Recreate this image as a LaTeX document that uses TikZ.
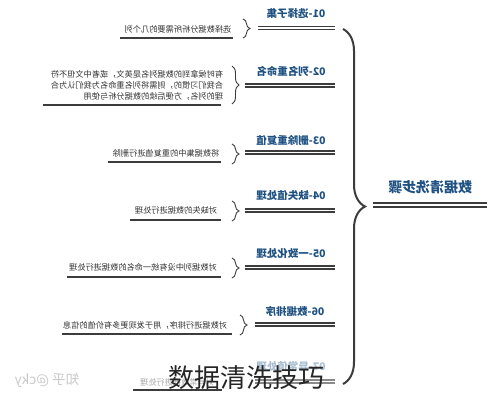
\documentclass[tikz,border=0pt]{standalone}
\usepackage{fontspec}
\newfontfamily\cjk{Noto Sans CJK SC}
\usetikzlibrary{decorations.pathreplacing}
\definecolor{ttl}{HTML}{1F5283}
\definecolor{ttlfade}{HTML}{A9BED3}
\definecolor{ln}{HTML}{3C3C3C}
\definecolor{dt}{HTML}{333333}
\definecolor{dtfade}{HTML}{A8A8A8}
\definecolor{wm}{HTML}{C9C9C9}
\begin{document}
\begin{tikzpicture}[x=1pt,y=-1pt,
  title/.style={font=\cjk\bfseries\fontsize{10.5}{12}\selectfont, text=ttl, inner sep=0},
  detail/.style={font=\cjk\fontsize{8.2}{11}\selectfont, text=dt, inner sep=0},
  dbl/.style={ln, line width=1.1pt},
  uline/.style={ln, line width=1.3pt},
  sbrace/.style={ln, line width=0.9pt, decorate, decoration={brace, amplitude=7pt}},
  bigbrace/.style={ln, line width=2pt, decorate, decoration={brace, amplitude=22pt, aspect=0.5}},
]
\useasboundingbox[fill=white] (0,0) rectangle (495,400);

% root
\node[font=\cjk\bfseries\fontsize{14}{16}\selectfont, text=ttl, inner sep=0] (root) at (430,187) {\reflectbox{数据清洗步骤}};
\coordinate (ra) at (373,203); \coordinate (rb) at (487,203);
\draw[dbl] (ra) -- (rb);
\draw[dbl] ([yshift=-4pt]ra) -- ([yshift=-4pt]rb);

% big brace
\coordinate (bt) at (343,29); \coordinate (bb) at (343,384);
\draw[bigbrace] (bt) -- (bb);

% branch 01
\node[title] (t1) at (296,14) {\reflectbox{01-选择子集}};
\coordinate (d1a) at (258,26.5); \coordinate (d1b) at (335,26.5);
\draw[dbl] (d1a) -- (d1b); \draw[dbl] ([yshift=-3pt]d1a) -- ([yshift=-3pt]d1b);
\coordinate (s1a) at (243,19); \coordinate (s1b) at (243,38);
\draw[sbrace] (s1a) -- (s1b);
\node[detail] (x1) at (178,29) {\reflectbox{选择数据分析所需要的几个列}};
\coordinate (u1a) at (120,38); \coordinate (u1b) at (233,38);
\draw[uline] (u1a) -- (u1b);

% branch 02
\node[title] (t2) at (291,71) {\reflectbox{02-列名重命名}};
\coordinate (d2a) at (245,84); \coordinate (d2b) at (335,84);
\draw[dbl] (d2a) -- (d2b); \draw[dbl] ([yshift=-3pt]d2a) -- ([yshift=-3pt]d2b);
\coordinate (s2a) at (232,66); \coordinate (s2b) at (232,104);
\draw[sbrace] (s2a) -- (s2b);
\node[detail] (x2) at (137,86) {\reflectbox{\begin{tabular}{@{}l@{}}有时候拿到的数据列名是英文，或者中文但不符\\合我们习惯的，则需将列名重命名为我们认为合\\理的列名，方便后续的数据分析与使用\end{tabular}}};
\coordinate (u2a) at (43,105); \coordinate (u2b) at (221,105);
\draw[uline] (u2a) -- (u2b);

% branch 03
\node[title] (t3) at (291,140) {\reflectbox{03-删除重复值}};
\coordinate (d3a) at (245,151); \coordinate (d3b) at (335,151);
\draw[dbl] (d3a) -- (d3b); \draw[dbl] ([yshift=-3pt]d3a) -- ([yshift=-3pt]d3b);
\coordinate (s3a) at (232,144); \coordinate (s3b) at (232,164);
\draw[sbrace] (s3a) -- (s3b);
\node[detail] (x3) at (166,153) {\reflectbox{将数据集中的重复值进行删除}};
\coordinate (u3a) at (108,162); \coordinate (u3b) at (221,162);
\draw[uline] (u3a) -- (u3b);

% branch 04
\node[title] (t4) at (291,196) {\reflectbox{04-缺失值处理}};
\coordinate (d4a) at (245,209); \coordinate (d4b) at (335,209);
\draw[dbl] (d4a) -- (d4b); \draw[dbl] ([yshift=-3pt]d4a) -- ([yshift=-3pt]d4b);
\coordinate (s4a) at (232,201); \coordinate (s4b) at (232,221);
\draw[sbrace] (s4a) -- (s4b);
\node[detail] (x4) at (176,210) {\reflectbox{对缺失的数据进行处理}};
\coordinate (u4a) at (130,220); \coordinate (u4b) at (221,220);
\draw[uline] (u4a) -- (u4b);

% branch 05
\node[title] (t5) at (291,254) {\reflectbox{05-一致化处理}};
\coordinate (d5a) at (245,266); \coordinate (d5b) at (335,266);
\draw[dbl] (d5a) -- (d5b); \draw[dbl] ([yshift=-3pt]d5a) -- ([yshift=-3pt]d5b);
\coordinate (s5a) at (232,258); \coordinate (s5b) at (232,278);
\draw[sbrace] (s5a) -- (s5b);
\node[detail] (x5) at (143,267) {\reflectbox{对数据列中没有统一命名的数据进行处理}};
\coordinate (u5a) at (67,277); \coordinate (u5b) at (221,277);
\draw[uline] (u5a) -- (u5b);

% branch 06
\node[title] (t6) at (295,311) {\reflectbox{06-数据排序}};
\coordinate (d6a) at (255,323); \coordinate (d6b) at (335,323);
\draw[dbl] (d6a) -- (d6b); \draw[dbl] ([yshift=-3pt]d6a) -- ([yshift=-3pt]d6b);
\coordinate (s6a) at (240,315); \coordinate (s6b) at (240,335);
\draw[sbrace] (s6a) -- (s6b);
\node[detail] (x6) at (145,325) {\reflectbox{对数据进行排序，用于发现更多有价值的信息}};
\coordinate (u6a) at (62,334); \coordinate (u6b) at (232,334);
\draw[uline] (u6a) -- (u6b);

% branch 07 (faded)
\node[title, text=ttlfade] (t7) at (291,367) {\reflectbox{07-异常值处理}};
\coordinate (d7a) at (255,380); \coordinate (d7b) at (335,380);
\draw[dbl, draw=ln!60] (d7a) -- (d7b); \draw[dbl, draw=ln!60] ([yshift=-3pt]d7a) -- ([yshift=-3pt]d7b);
\node[detail, text=dtfade] (x7) at (177,382) {\reflectbox{对异常数据进行处理}};
\coordinate (u7a) at (133,390); \coordinate (u7b) at (222,390);
\draw[uline] (u7a) -- (u7b);

% watermark
\node[font=\cjk\fontsize{13.5}{15}\selectfont, text=wm, inner sep=0] (wmk) at (47,380) {\reflectbox{知乎 @cky}};

% caption
\node[font=\cjk\fontsize{26}{30}\selectfont, text=black!85, inner sep=0] (cap) at (246,378) {数据清洗技巧};
\end{tikzpicture}
\end{document}
